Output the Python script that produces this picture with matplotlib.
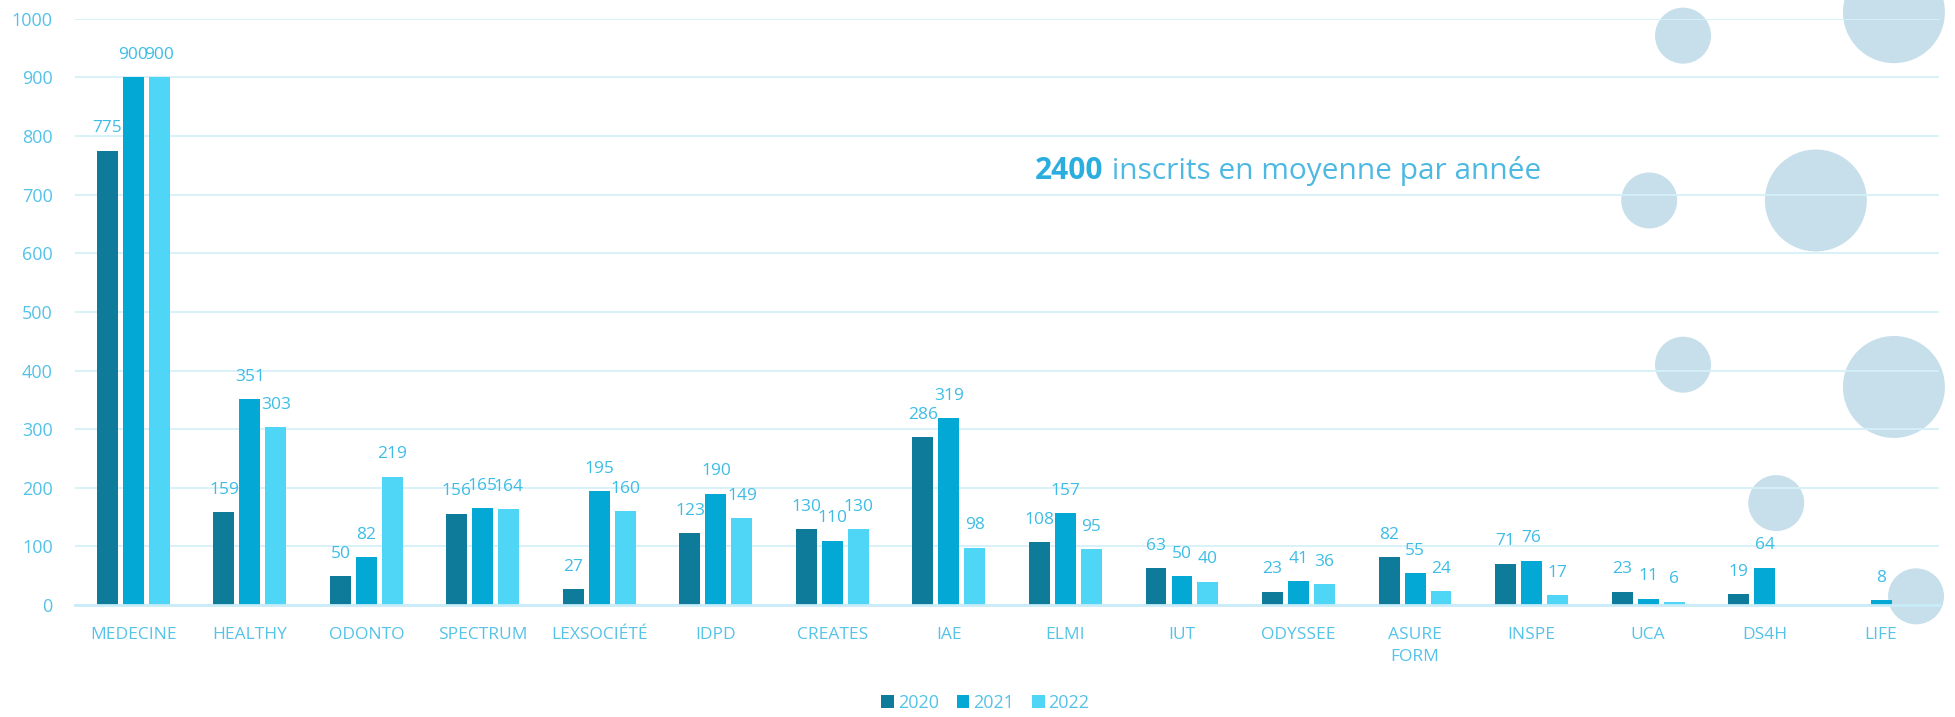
import matplotlib.pyplot as plt
import numpy as np

plt.rcParams['font.family'] = ['Open Sans', 'DejaVu Sans']

categories = ['MEDECINE', 'HEALTHY', 'ODONTO', 'SPECTRUM', 'LEXSOCIÉTÉ', 'IDPD',
              'CREATES', 'IAE', 'ELMI', 'IUT', 'ODYSSEE', 'ASURE\nFORM', 'INSPE',
              'UCA', 'DS4H', 'LIFE']
years = ['2020', '2021', '2022']
# None = no bar for that year
v2020 = [775, 159, 50, 156, 27, 123, 130, 286, 108, 63, 23, 82, 71, 23, 19, None]
v2021 = [900, 351, 82, 165, 195, 190, 110, 319, 157, 50, 41, 55, 76, 11, 64, 8]
v2022 = [900, 303, 219, 164, 160, 149, 130, 98, 95, 40, 36, 24, 17, 6, None, None]
yticks = [0, 100, 200, 300, 400, 500, 600, 700, 800, 900, 1000]

# decorative bubbles (x in category units, y in value units)
bubble_x = [13.30, 15.11, 13.01, 14.44, 13.30, 15.11, 14.10, 15.30]
bubble_y = [971, 1011, 690, 690, 410, 372, 174, 15]
bubble_big = [False, True, False, True, False, True, False, False]

colors = ['#0e7b9b', '#03a9d4', '#4fd6f6']
label_color = '#3dbde6'
tick_color = '#55c2e8'

fig = plt.figure(figsize=(19.55, 7.17), dpi=100)
ax = fig.add_axes([0.0384, 0.156, 0.9536, 0.818])

x = np.arange(len(categories))
width = 0.18
step = 0.223
for i, (vals, col, yr) in enumerate(zip([v2020, v2021, v2022], colors, years)):
    xs = [xi + (i - 1) * step for xi, v in zip(x, vals) if v is not None]
    hs = [v for v in vals if v is not None]
    bars = ax.bar(xs, hs, width, color=col, label=yr, zorder=2)
    for b, h in zip(bars, hs):
        ax.annotate(str(h), (b.get_x() + b.get_width() / 2, h), xytext=(0, 16),
                    textcoords='offset points', ha='center', va='center',
                    fontsize=12.5, color=label_color, zorder=3)

sizes = [5390 if big else 1625 for big in bubble_big]
ax.scatter(bubble_x, bubble_y, s=sizes, color='#c7dfea', edgecolors='none',
           zorder=0.3, clip_on=False)

ax.set_xlim(-0.5, len(categories) - 0.5)
ax.set_ylim(0, 1000)
ax.set_yticks(yticks)
ax.set_xticks(x)
ax.set_xticklabels(categories, fontsize=12.5, color=tick_color, linespacing=1.5, va='top')
ax.tick_params(axis='y', labelsize=13, labelcolor=tick_color, length=0, pad=16)
ax.tick_params(axis='x', length=0, pad=16)

ax.set_axisbelow(True)
ax.grid(axis='y', color='#d6f0f9', linewidth=1.3, zorder=0.5)
for s in ['top', 'right', 'left']:
    ax.spines[s].set_visible(False)
ax.spines['bottom'].set_color('#c8ecf8')
ax.spines['bottom'].set_linewidth(2)

t1 = ax.text(0.515, 0.741, '2400', transform=ax.transAxes, fontsize=21.5,
             fontweight='bold', color='#2aaee0', ha='left', va='center')
ax.annotate(' inscrits en moyenne par année', xy=(1, 0), xycoords=t1,
            ha='left', va='bottom', fontsize=21.5, color='#4db9e3')

fig.legend(loc='center', bbox_to_anchor=(0.504, 0.02), ncol=3, frameon=False,
           fontsize=13, handlelength=0.7, handleheight=0.7, handletextpad=0.2,
           columnspacing=1.0, labelcolor=tick_color)

fig.savefig('out.png', dpi=100)
